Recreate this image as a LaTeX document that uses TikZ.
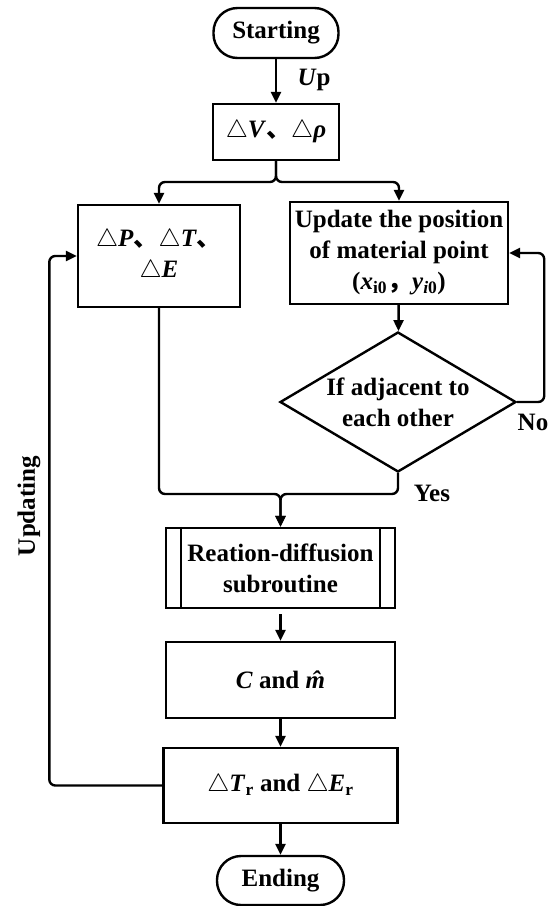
\documentclass[tikz,border=0pt]{standalone}
\usepackage{fontspec}
\setmainfont{Liberation Serif}
\newfontfamily\cjkfont{Noto Sans CJK SC}
\usetikzlibrary{arrows.meta,shapes.geometric,calc}

\newcommand{\tri}{$\triangle$}
\newcommand{\dun}{{\cjkfont 、}}
\newcommand{\dou}{{\cjkfont ，}}
\newcommand{\mhat}{\ooalign{\textit{m}\cr\hidewidth\kern2pt\textit{ˆ}\hidewidth\cr}}

\tikzset{
  base/.style={draw=black, line width=2.4pt, align=center, inner sep=2pt, font=\fontsize{25}{31}\selectfont\bfseries},
  term/.style={base, rounded corners=24pt, minimum height=50pt},
  proc/.style={base, rectangle},
  cond/.style={base, diamond, aspect=1.69, inner sep=0pt},
  lbl/.style={font=\fontsize{25}{31}\selectfont\bfseries},
  flow/.style={line width=2.4pt, -{Triangle[length=11pt,width=10pt]}, rounded corners=6pt}
}

\begin{document}
\begin{tikzpicture}[x=1pt,y=-1pt]
  \useasboundingbox (0,0) rectangle (553,906);

  % main column
  \node[term, minimum width=125pt] (start) at (276,33) {Starting};
  \node[proc, minimum width=126pt, minimum height=56pt] (dv) at (276,132) {\tri\textit{V}\dun\tri\textit{ρ}};
  \node[proc, minimum width=162pt, minimum height=102pt] (dp) at (159,256) {\tri\textit{P}\dun\tri\textit{T}\dun\\\tri\textit{E}};
  \node[proc, minimum width=218pt, minimum height=102pt] (upd) at (399,253) {Update the position\\of material point\\(\textit{x}\textsubscript{i0}\dou\textit{y}\textsubscript{\textit{i}0})};
  \node[cond, minimum width=236pt, minimum height=140pt] (adj) at (398,402) {If adjacent to\\each other};
  \node[proc, minimum width=229pt, minimum height=80pt] (sub) at (280.5,568) {Reation-diffusion\\subroutine};
  \draw[line width=2.4pt] ([xshift=16pt]sub.north west) -- ([xshift=16pt]sub.south west);
  \draw[line width=2.4pt] ([xshift=-16pt]sub.north east) -- ([xshift=-16pt]sub.south east);
  \node[proc, minimum width=229pt, minimum height=76pt] (cm) at (280.5,680) {\textit{C} and \mhat};
  \node[proc, minimum width=234pt, minimum height=75pt] (dtr) at (280.5,785.5) {\tri\textit{T}\textsubscript{r} and \tri\textit{E}\textsubscript{r}};
  \node[term, minimum width=127pt, minimum height=49pt] (stop) at (280.5,880.5) {Ending};

  % labels
  \node[lbl, anchor=west] (up) at (294,80) {\textit{U}p};
  \node[lbl] (no) at (533,422) {No};
  \node[lbl] (yes) at (432,493) {Yes};
  \node[lbl, rotate=90] (upg) at (29,506) {Updating};

  % connectors
  \coordinate (split) at (276,182);
  \coordinate (join) at (280.5,494);
  \draw[flow] (start) -- (dv);
  \draw[flow] (dv.south) -- (split) -| (dp.north);
  \draw[flow] (dv.south) -- (split) -| (upd.north);
  \draw[flow] (upd) -- (adj);
  \draw[flow] (adj.east) -- ++(27,0) |- (upd.east);
  \draw[flow] (dp.south) |- (join) -- (sub.north);
  \draw[flow] (adj.south) |- (join) -- (sub.north);
  \draw[flow, shorten <=5pt] (sub) -- (cm);
  \draw[flow] (cm) -- (dtr);
  \draw[flow] (dtr) -- (stop);
  \draw[flow] (dtr.west) -- ++(-113,0) |- (dp.west);
\end{tikzpicture}
\end{document}
